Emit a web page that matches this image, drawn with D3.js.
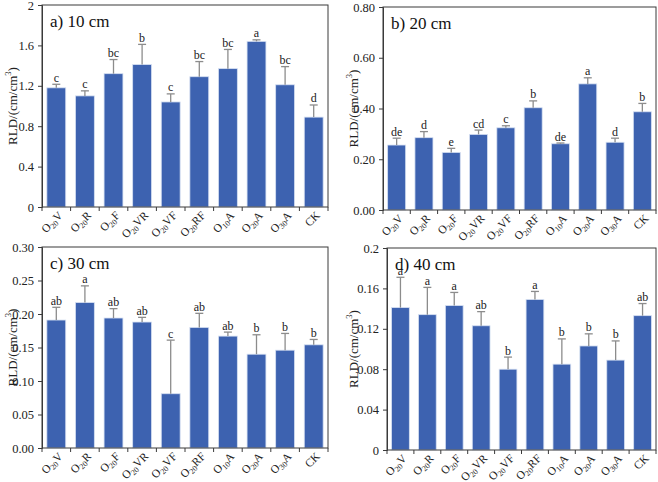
<!DOCTYPE html>
<html>
<head>
<meta charset="utf-8">
<script src="https://cdn.jsdelivr.net/npm/d3@7"></script>
<style>
  body { margin: 0; background: #fff; }
  svg { display: block; font-family: "Liberation Serif", "Times New Roman", serif; }
</style>
</head>
<body>
<svg id="chart" width="658" height="482"></svg>
<script>
// ---------- data ----------
const categories = [
  ["O", "20", "V"], ["O", "20", "R"], ["O", "20", "F"], ["O", "20", "VR"], ["O", "20", "VF"],
  ["O", "20", "RF"], ["O", "10", "A"], ["O", "20", "A"], ["O", "30", "A"], ["CK", "", ""]
];

const rld10 = [1.18, 1.10, 1.32, 1.41, 1.04, 1.29, 1.37, 1.64, 1.21, 0.89];
const err10 = [0.035, 0.05, 0.14, 0.20, 0.08, 0.15, 0.19, 0.015, 0.18, 0.12];
const sig10 = ["c", "c", "bc", "b", "c", "bc", "bc", "a", "bc", "d"];
const ticks10 = [0, 0.4, 0.8, 1.2, 1.6, 2];
const tickLabels10 = ["0", "0.4", "0.8", "1.2", "1.6", "2"];

const rld20 = [0.256, 0.285, 0.227, 0.298, 0.324, 0.403, 0.261, 0.497, 0.267, 0.387];
const err20 = [0.027, 0.024, 0.016, 0.017, 0.008, 0.027, 0.003, 0.024, 0.016, 0.033];
const sig20 = ["de", "d", "e", "cd", "c", "b", "de", "a", "d", "b"];
const ticks20 = [0, 0.2, 0.4, 0.6, 0.8];
const tickLabels20 = ["0.00", "0.20", "0.40", "0.60", "0.80"];

const rld30 = [0.191, 0.217, 0.194, 0.188, 0.081, 0.180, 0.167, 0.140, 0.146, 0.154];
const err30 = [0.019, 0.025, 0.014, 0.007, 0.080, 0.021, 0.006, 0.029, 0.025, 0.008];
const sig30 = ["ab", "a", "ab", "ab", "c", "ab", "ab", "b", "b", "b"];
const ticks30 = [0, 0.05, 0.10, 0.15, 0.20, 0.25, 0.30];
const tickLabels30 = ["0.00", "0.05", "0.10", "0.15", "0.20", "0.25", "0.30"];

const rld40 = [0.141, 0.134, 0.143, 0.123, 0.080, 0.149, 0.085, 0.103, 0.089, 0.133];
const err40 = [0.030, 0.027, 0.013, 0.014, 0.012, 0.008, 0.025, 0.012, 0.019, 0.012];
const sig40 = ["a", "a", "a", "ab", "b", "a", "b", "b", "b", "ab"];
const ticks40 = [0, 0.04, 0.08, 0.12, 0.16, 0.2];
const tickLabels40 = ["0", "0.04", "0.08", "0.12", "0.16", "0.2"];

const panelTitles = ["a) 10 cm", "b) 20 cm", "c) 30 cm", "d) 40 cm"];

// ---------- layout ----------
const panels = [
  { title: panelTitles[0], values: rld10, errs: err10, sig: sig10, ticks: ticks10, labels: tickLabels10,
    x0: 42, x1: 328, y0: 5, y1: 207, ylabX: 14 },
  { title: panelTitles[1], values: rld20, errs: err20, sig: sig20, ticks: ticks20, labels: tickLabels20,
    x0: 383, x1: 656, y0: 7, y1: 210, ylabX: 355 },
  { title: panelTitles[2], values: rld30, errs: err30, sig: sig30, ticks: ticks30, labels: tickLabels30,
    x0: 42, x1: 328, y0: 247, y1: 448, ylabX: 14 },
  { title: panelTitles[3], values: rld40, errs: err40, sig: sig40, ticks: ticks40, labels: tickLabels40,
    x0: 387, x1: 656, y0: 248, y1: 450, ylabX: 355 }
];

const FONT = '"Liberation Serif", "Times New Roman", Times, serif';
const barColor = "#3d62b0";
const errColor = "#8c8c8c";
const axisColor = "#3a3a3a";

const svg = d3.select("#chart");

panels.forEach(p => {
  const g = svg.append("g");
  const keys = categories.map((c, i) => i);
  const x = d3.scaleBand().domain(keys).range([p.x0, p.x1]).paddingInner(0.34).paddingOuter(0.17);
  const xb = d3.scaleBand().domain(keys).range([p.x0, p.x1]);
  const y = d3.scaleLinear().domain([0, p.ticks[p.ticks.length - 1]]).range([p.y1, p.y0]);

  // bars
  g.selectAll("rect.bar").data(p.values).join("rect")
    .attr("class", "bar")
    .attr("x", (d, i) => x(i))
    .attr("width", x.bandwidth())
    .attr("y", d => y(d))
    .attr("height", d => y(0) - y(d))
    .attr("fill", barColor)
    .attr("stroke", "#d6e0f2")
    .attr("stroke-width", 0.8);

  // error bars (upper only)
  const eb = g.selectAll("g.err").data(p.values).join("g").attr("class", "err");
  eb.append("line")
    .attr("x1", (d, i) => x(i) + x.bandwidth() / 2)
    .attr("x2", (d, i) => x(i) + x.bandwidth() / 2)
    .attr("y1", d => y(d))
    .attr("y2", (d, i) => y(d + p.errs[i]))
    .attr("stroke", errColor).attr("stroke-width", 1.3);
  eb.append("line")
    .attr("x1", (d, i) => x(i) + x.bandwidth() / 2 - 4)
    .attr("x2", (d, i) => x(i) + x.bandwidth() / 2 + 4)
    .attr("y1", (d, i) => y(d + p.errs[i]))
    .attr("y2", (d, i) => y(d + p.errs[i]))
    .attr("stroke", errColor).attr("stroke-width", 1.3);

  // significance letters
  g.selectAll("text.sig").data(p.values).join("text")
    .attr("class", "sig")
    .attr("x", (d, i) => x(i) + x.bandwidth() / 2)
    .attr("y", (d, i) => y(d + p.errs[i]) - 2.5)
    .attr("text-anchor", "middle")
    .attr("font-family", FONT)
    .attr("font-size", 12)
    .attr("fill", "#222")
    .text((d, i) => p.sig[i]);

  // frame
  g.append("rect")
    .attr("x", p.x0).attr("y", p.y0)
    .attr("width", p.x1 - p.x0).attr("height", p.y1 - p.y0)
    .attr("fill", "none").attr("stroke", axisColor).attr("stroke-width", 1);

  // y axis
  const yAxis = d3.axisLeft(y).tickValues(p.ticks).tickFormat((d, i) => p.labels[i]).tickSizeOuter(0).tickSize(4).tickPadding(4);
  const ya = g.append("g").attr("transform", `translate(${p.x0},0)`).call(yAxis)
    .attr("font-family", FONT);
  ya.select(".domain").attr("stroke", axisColor);
  ya.selectAll(".tick line").attr("stroke", axisColor);
  ya.selectAll(".tick text").attr("font-size", 12.5).attr("fill", "#222");

  // x axis ticks at category boundaries
  const bounds = keys.map(k => xb(k)).concat([p.x1]);
  g.selectAll("line.xt").data(bounds).join("line")
    .attr("class", "xt")
    .attr("x1", d => d).attr("x2", d => d)
    .attr("y1", p.y1).attr("y2", p.y1 + 4)
    .attr("stroke", axisColor).attr("stroke-width", 1);

  // x labels (rotated -45 deg, with subscripts)
  const xl = g.selectAll("text.xl").data(categories).join("text")
    .attr("class", "xl")
    .attr("transform", (d, i) => `translate(${xb(i) + xb.bandwidth() / 2 + 7},${p.y1 + 9}) rotate(-45)`)
    .attr("text-anchor", "end")
    .attr("font-family", FONT)
    .attr("font-size", 11.5)
    .attr("fill", "#222");
  xl.each(function (c) {
    const t = d3.select(this);
    t.append("tspan").text(c[0]);
    if (c[1]) {
      t.append("tspan").attr("font-size", 8).attr("dy", 2.5).text(c[1]);
      t.append("tspan").attr("dy", -2.5).text(c[2]);
    }
  });

  // y label
  const ym = (p.y0 + p.y1) / 2;
  const yl = g.append("text")
    .attr("transform", `translate(${p.ylabX},${ym}) rotate(-90)`)
    .attr("text-anchor", "middle")
    .attr("dominant-baseline", "middle")
    .attr("font-family", FONT)
    .attr("font-size", 13)
    .attr("fill", "#222");
  yl.append("tspan").text("RLD/(cm/cm");
  yl.append("tspan").attr("font-size", 8.5).attr("dy", -5).text("3");
  yl.append("tspan").attr("dy", 5).text(")");

  // panel title
  g.append("text")
    .attr("x", p.x0 + 8)
    .attr("y", p.y0 + 22)
    .attr("font-family", FONT)
    .attr("font-size", 17)
    .attr("fill", "#111")
    .text(p.title);
});
</script>
</body>
</html>
